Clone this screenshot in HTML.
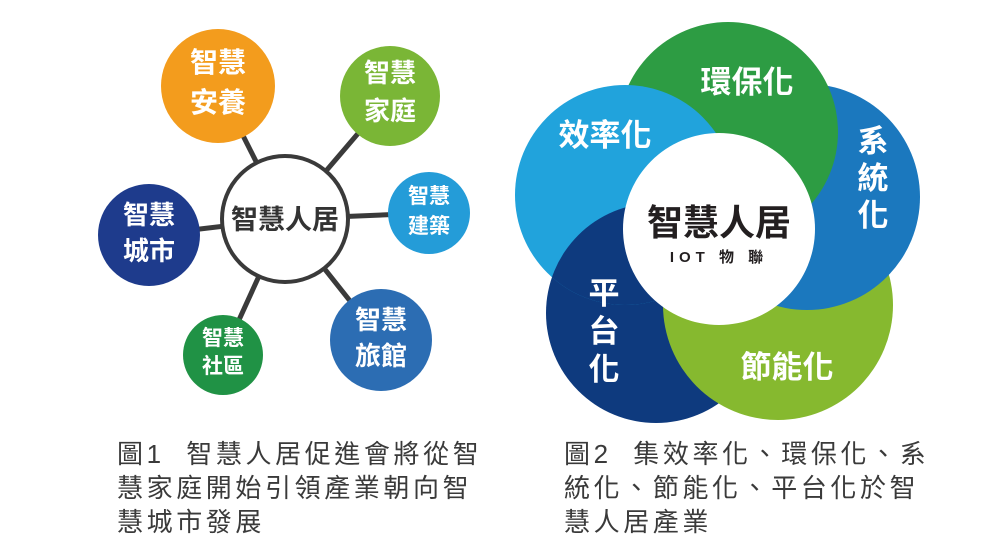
<!DOCTYPE html>
<html><head><meta charset="utf-8"><style>
html,body{margin:0;padding:0;background:#fff;}
body{width:1000px;height:556px;overflow:hidden;position:relative;}
svg{position:absolute;left:0;top:0;}
.cap{position:absolute;font-family:"Liberation Sans","Noto Sans CJK TC",sans-serif;font-size:26px;color:#3a3a3a;line-height:34px;letter-spacing:3.6px;white-space:pre;}
</style></head><body>
<svg width="1000" height="556" viewBox="0 0 1000 556" font-family="Liberation Sans, Noto Sans CJK TC, sans-serif">
<g stroke="#3a3a3a" stroke-width="5">
<line x1="285" y1="219" x2="218" y2="86"/>
<line x1="285" y1="219" x2="390" y2="96"/>
<line x1="285" y1="219" x2="429" y2="213"/>
<line x1="285" y1="219" x2="381" y2="340"/>
<line x1="285" y1="219" x2="223" y2="355"/>
<line x1="285" y1="219" x2="149" y2="235"/>
</g>
<circle cx="285" cy="219" r="63" fill="#fff" stroke="#3a3a3a" stroke-width="4"/>
<circle cx="218" cy="86" r="57" fill="#F39C1D"/>
<circle cx="390" cy="96" r="50" fill="#7AB636"/>
<circle cx="429" cy="213" r="41" fill="#249CD8"/>
<circle cx="381" cy="340" r="51" fill="#2C6DB3"/>
<circle cx="223" cy="355" r="40" fill="#209245"/>
<circle cx="149" cy="235" r="51" fill="#1E3B8C"/>
<g fill="#fff" font-weight="bold" text-anchor="middle">
<text x="218" y="72" font-size="28">智慧</text><text x="218" y="112" font-size="28">安養</text>
<text x="390" y="82" font-size="26">智慧</text><text x="390" y="120" font-size="26">家庭</text>
<text x="429" y="203" font-size="21">智慧</text><text x="429" y="233" font-size="21">建築</text>
<text x="381" y="329" font-size="26">智慧</text><text x="381" y="365" font-size="26">旅館</text>
<text x="223" y="345" font-size="21">智慧</text><text x="223" y="373" font-size="21">社區</text>
<text x="149" y="224" font-size="26">智慧</text><text x="149" y="260" font-size="26">城市</text>
</g>
<text x="285" y="229" font-size="27" font-weight="bold" fill="#333" text-anchor="middle">智慧人居</text>

<defs>
<clipPath id="clb"><circle cx="625" cy="195" r="110"/></clipPath>
</defs>
<circle cx="656" cy="313" r="110" fill="#0E3A7E"/>
<circle cx="778" cy="305" r="115" fill="#86B92F"/>
<circle cx="807" cy="197" r="113" fill="#1B78BE"/>
<circle cx="728" cy="132" r="110" fill="#2D9C43"/>
<circle cx="625" cy="195" r="110" fill="#21A3DC"/>
<circle cx="656" cy="313" r="110" fill="#0E3A7E" clip-path="url(#clb)"/>
<circle cx="719" cy="229" r="96" fill="#fff"/>
<g fill="#fff" font-weight="bold" font-size="31" text-anchor="middle">
<text x="747" y="93">環保化</text>
<text x="605" y="146">效率化</text>
<text x="787" y="378">節能化</text>
<text x="873" y="152">系</text><text x="873" y="189">統</text><text x="873" y="226">化</text>
<text x="604" y="304">平</text><text x="604" y="342">台</text><text x="604" y="380">化</text>
</g>
<text x="719" y="235" font-size="36" font-weight="bold" fill="#231f20" text-anchor="middle">智慧人居</text>
<text x="719" y="262" font-size="15" font-weight="bold" fill="#231f20" text-anchor="middle" letter-spacing="5">IOT 物 聯</text>
</svg>
<div class="cap" style="left:117px;top:437px;">圖1  智慧人居促進會將從智
慧家庭開始引領產業朝向智
慧城市發展</div>
<div class="cap" style="left:564px;top:437px;">圖2  集效率化、環保化、系
統化、節能化、平台化於智
慧人居產業</div>
</body></html>
